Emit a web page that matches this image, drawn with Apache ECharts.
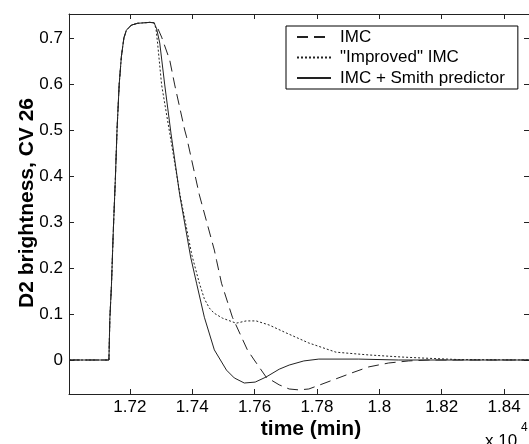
<!DOCTYPE html>
<html>
<head>
<meta charset="utf-8">
<script src="https://cdn.jsdelivr.net/npm/echarts@6/dist/echarts.min.js"></script>
<style>html,body{margin:0;padding:0;background:#fff;}#c{width:529px;height:444px;}</style>
</head>
<body>
<div id="c"></div>
<script>
// time in minutes, value = D2 brightness (CV 26)
const xTicks = [17200, 17400, 17600, 17800, 18000, 18200, 18400];
const yTicks = [0, 0.1, 0.2, 0.3, 0.4, 0.5, 0.6, 0.7];
const xRange = [17005, 18480];
const yRange = [-0.0739, 0.7522];

// common step response (before controllers diverge)
const risePoints = [[17005,0],[17133,0],[17136,0.09],[17141,0.16],[17147,0.28],[17154,0.40],[17159,0.50],[17166,0.60],[17173,0.66],[17181,0.70],[17189,0.717],[17205,0.728],[17225,0.732],[17264,0.734],[17278,0.733]];

const imcPoints = [[17289,0.722],[17302,0.702],[17328,0.652],[17344,0.598],[17376,0.5],[17382,0.485],[17423,0.359],[17471,0.239],[17478,0.217],[17494,0.167],[17529,0.093],[17577,0.022],[17599,0],[17637,-0.037],[17679,-0.054],[17711,-0.063],[17742,-0.065],[17774,-0.063],[17806,-0.055],[17912,-0.028],[17966,-0.015],[18030,-0.0065],[18094,-0.002],[18157,0],[18480,0]];

const improvedPoints = [[17284,0.72],[17289,0.689],[17302,0.598],[17328,0.493],[17361,0.359],[17399,0.228],[17423,0.167],[17439,0.133],[17455,0.113],[17470,0.102],[17497,0.091],[17541,0.080],[17573,0.085],[17605,0.085],[17647,0.076],[17701,0.059],[17774,0.037],[17861,0.017],[17966,0.011],[18071,0.0065],[18148,0.004],[18253,0.001],[18480,0]];

const smithPoints = [[17286,0.72],[17296,0.689],[17312,0.598],[17332,0.493],[17360,0.359],[17395,0.224],[17414,0.167],[17439,0.093],[17471,0.022],[17510,-0.022],[17535,-0.039],[17567,-0.050],[17602,-0.048],[17637,-0.037],[17679,-0.020],[17711,-0.011],[17758,-0.002],[17806,0.002],[17934,0.002],[18062,0],[18480,0]];

const seriesNames = ['IMC', '"Improved" IMC', 'IMC + Smith predictor'];

const FONT = 'Liberation Sans';
const chart = echarts.init(document.getElementById('c'), null, {renderer: 'canvas'});

function fmtX(v) { return String(+(v / 1e4).toFixed(2)); }
function fmtY(v) { return String(+v.toFixed(1)); }

const axisLineStyle = {color: '#222', width: 1};

chart.setOption({
  animation: false,
  backgroundColor: '#fff',
  grid: {left: 69, top: 14, width: 462, height: 380, containLabel: false},
  xAxis: [{
    type: 'value', min: xRange[0], max: xRange[1], position: 'bottom',
    axisLine: {show: true, onZero: false, lineStyle: axisLineStyle},
    axisTick: {show: true, inside: true, length: 5, customValues: xTicks, lineStyle: axisLineStyle},
    axisLabel: {show: true, customValues: xTicks, formatter: fmtX, margin: 5, fontFamily: FONT, fontSize: 17, color: '#000'},
    splitLine: {show: false}
  }, {
    type: 'value', min: xRange[0], max: xRange[1], position: 'top',
    axisLine: {show: true, onZero: false, lineStyle: axisLineStyle},
    axisTick: {show: true, inside: true, length: 5, customValues: xTicks, lineStyle: axisLineStyle},
    axisLabel: {show: false},
    splitLine: {show: false}
  }],
  yAxis: [{
    type: 'value', min: yRange[0], max: yRange[1], position: 'left',
    axisLine: {show: true, onZero: false, lineStyle: axisLineStyle},
    axisTick: {show: true, inside: true, length: 5, customValues: yTicks, lineStyle: axisLineStyle},
    axisLabel: {show: true, customValues: yTicks, formatter: fmtY, margin: 6, fontFamily: FONT, fontSize: 17, color: '#000'},
    splitLine: {show: false}
  }, {
    type: 'value', min: yRange[0], max: yRange[1], position: 'right',
    axisLine: {show: true, onZero: false, lineStyle: axisLineStyle},
    axisTick: {show: true, inside: true, length: 5, customValues: yTicks, lineStyle: axisLineStyle},
    axisLabel: {show: false},
    splitLine: {show: false}
  }],
  legend: {
    orient: 'vertical', left: 286, top: 26,
    padding: [1, 13, 1, 10], itemGap: 0.5, itemWidth: 34, itemHeight: 14,
    borderColor: '#000', borderWidth: 1, backgroundColor: '#fff',
    itemStyle: {opacity: 0},
    textStyle: {fontFamily: FONT, fontSize: 17, color: '#000', lineHeight: 20, padding: [0, 0, 0, 4]},
    data: seriesNames
  },
  series: [{
    name: seriesNames[0], type: 'line', symbol: 'none', smooth: false,
    data: risePoints.concat(imcPoints),
    lineStyle: {color: '#222', width: 1, type: [11, 6]},
    itemStyle: {color: '#222'}, z: 3
  }, {
    name: seriesNames[1], type: 'line', symbol: 'none', smooth: false,
    data: risePoints.concat(improvedPoints),
    lineStyle: {color: '#222', width: 1, type: [2, 2]},
    itemStyle: {color: '#222'}, z: 2
  }, {
    name: seriesNames[2], type: 'line', symbol: 'none', smooth: false,
    data: risePoints.concat(smithPoints),
    lineStyle: {color: '#222', width: 1, type: 'solid'},
    itemStyle: {color: '#222'}, z: 4
  }],
  graphic: [{
    type: 'text', x: 27, y: 203, rotation: Math.PI / 2,
    style: {text: 'D2 brightness, CV 26', font: 'bold 21px "Liberation Sans"', fill: '#000', textAlign: 'center', textVerticalAlign: 'middle'}
  }, {
    type: 'text', x: 311, y: 429,
    style: {text: 'time (min)', font: 'bold 21px "Liberation Sans"', fill: '#000', textAlign: 'center', textVerticalAlign: 'middle'}
  }, {
    type: 'text', x: 485, y: 433,
    style: {text: 'x 10', font: '17px "Liberation Sans"', fill: '#000', textAlign: 'left', textVerticalAlign: 'top'}
  }, {
    type: 'text', x: 521, y: 422,
    style: {text: '4', font: '12px "Liberation Sans"', fill: '#000', textAlign: 'left', textVerticalAlign: 'top'}
  }]
});
</script>
</body>
</html>
